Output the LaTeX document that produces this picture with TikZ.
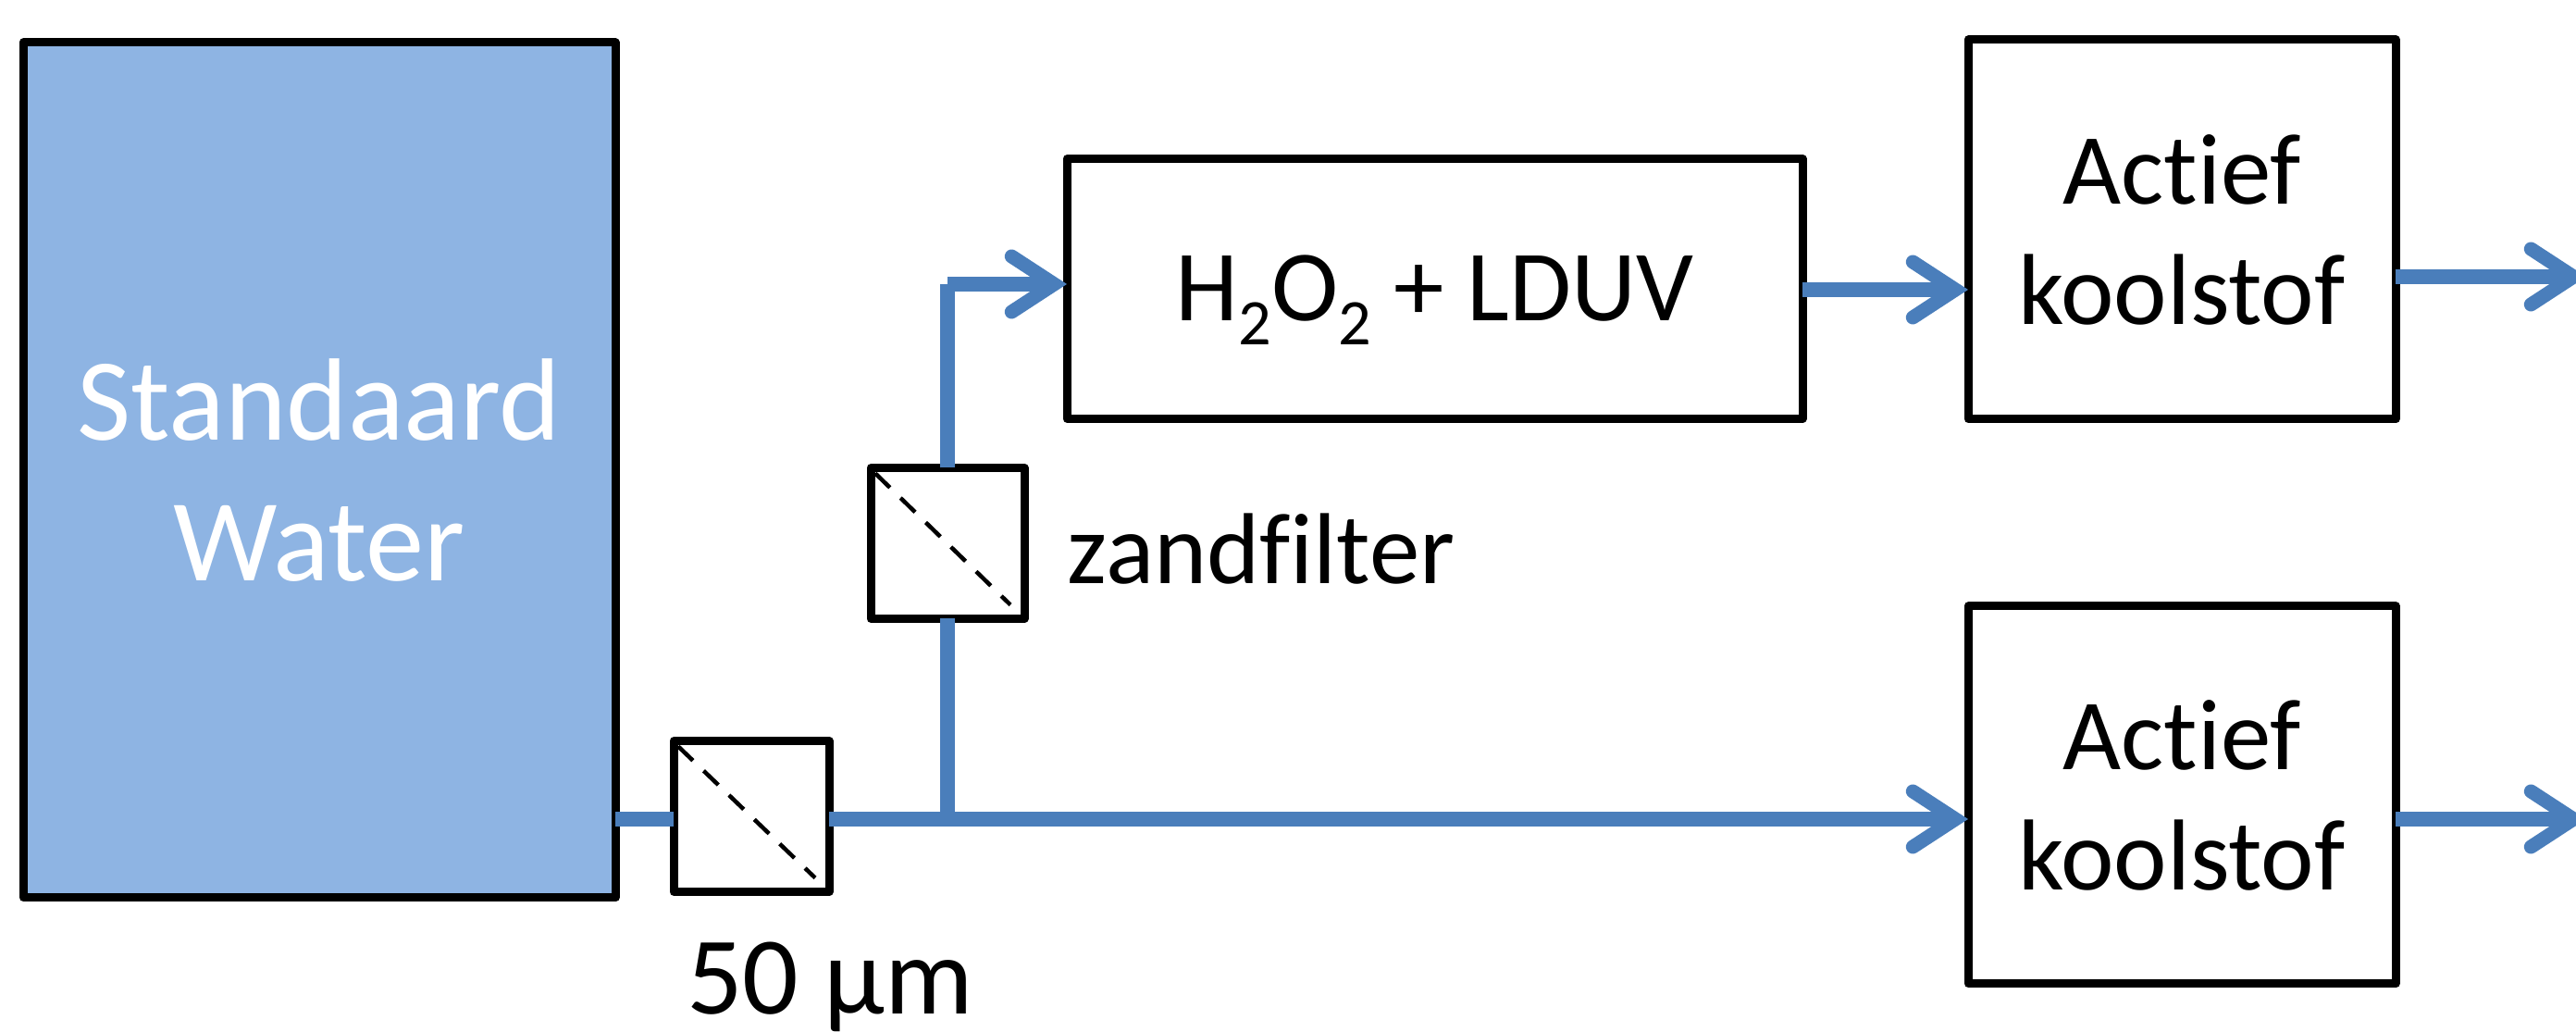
\documentclass[tikz,border=0pt]{standalone}
\usepackage{fontspec}
\setmainfont{Carlito}[Ligatures=NoCommon]
\usetikzlibrary{arrows.meta,positioning,calc}
\definecolor{tankblue}{HTML}{8EB4E3}
\definecolor{flowblue}{HTML}{4A7EBB}
\newcommand{\lowtwo}{\smash{\raisebox{-7.4pt}{\fontsize{20}{20}\selectfont 2}}}

\begin{document}
\begin{tikzpicture}[
      >={Straight Barb[length=.46cm,width=.6cm,line width=.15cm,line cap=round,line join=miter]},
      font=\fontsize{31}{37}\selectfont,
      outer sep=0pt,
      box/.style    ={rectangle, draw, line width=.09cm, line join=round,
                      fill=white, align=center, inner sep=0pt},
      tank/.style   ={box, fill=tankblue, text=white,
                      font=\fontsize{36}{43}\selectfont,
                      minimum width=6.40cm, minimum height=9.24cm},
      filterbox/.style={box, minimum width=1.66cm, minimum height=1.63cm},
      actief/.style ={box, minimum width=4.62cm, minimum height=4.10cm},
      flow/.style   ={draw=flowblue, line width=.155cm},
      sieve/.style  ={line width=.045cm, dash pattern=on .22cm off .16cm}
    ]
    \useasboundingbox (0,0) rectangle (27.84,11.15);

    \node[tank] at (3.45,6.07) (tank) {Standaard\\Water};
    \node[filterbox, minimum width=1.68cm] at (8.12,2.33) (mesh) {};
    \node[filterbox] at (10.24,5.28) (sand) {};
    \node[box, minimum width=7.95cm, minimum height=2.81cm] at (15.505,8.03) (lduv) {H\lowtwo O\lowtwo{} + LDUV};
    \node[actief] at (23.58,8.67) (actief_top) {Actief\\koolstof};
    \node[actief, minimum height=4.08cm] at (23.58,2.56) (actief_bottom) {Actief\\koolstof};

    \node[below=.43cm of mesh, xshift=.85cm, font=\fontsize{34}{41}\selectfont] (mesh_label) {50 µm};
    \node[right=.35cm of sand, yshift=-.06cm] (sand_label) {zandfilter};

    \coordinate (feed) at (tank.east |- 0,2.30);
    \coordinate (branch) at (sand.south |- feed);
    \coordinate (corner) at (sand.north |- 0,8.08);
    \coordinate (top_out) at (27.95,8.16);
    \coordinate (bottom_out) at (27.95,2.30);

    \draw[flow] (feed) -- (feed -| mesh.west);
    \draw[flow] (feed -| mesh.east) -- (branch);
    \draw[flow,->] (branch) -- (feed -| actief_bottom.west);
    \draw[flow] (branch) -- (sand.south);
    \draw[flow] (sand.north) -- (corner);
    \draw[flow,->] (corner) -- (corner -| lduv.west);
    \draw[flow,->] (lduv.east |- 0,8.02) -- (actief_top.west |- 0,8.02);
    \draw[flow,->] (actief_top.east |- top_out) -- (top_out);
    \draw[flow,->] (actief_bottom.east |- bottom_out) -- (bottom_out);

    \draw[sieve] ($(mesh.north west)+(.05,-.06)$) -- ($(mesh.south east)+(-.15,.15)$);
    \draw[sieve] ($(sand.north west)+(.05,-.06)$) -- ($(sand.south east)+(-.15,.15)$);
\end{tikzpicture}
\end{document}
